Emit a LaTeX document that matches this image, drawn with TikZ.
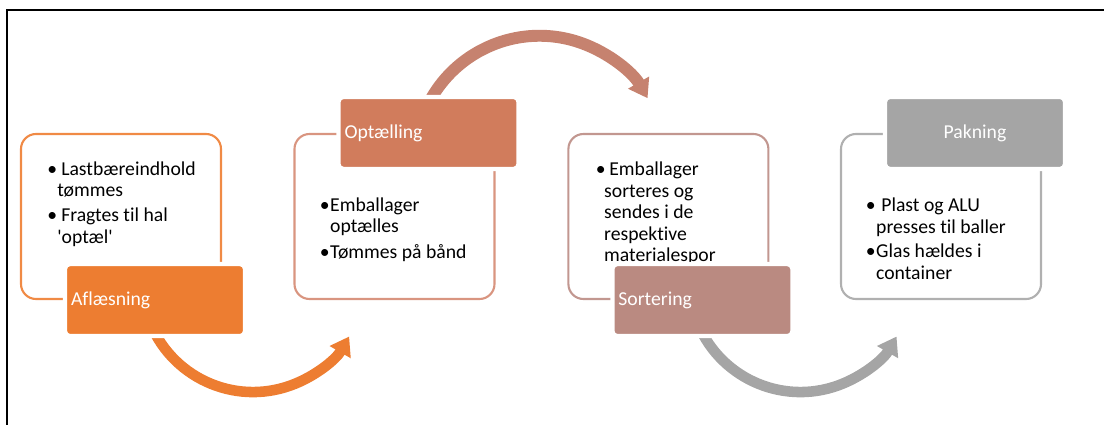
\documentclass[tikz,border=0pt]{standalone}
\usepackage{fontspec}
\setmainfont{Carlito}[Ligatures=NoCommon]
\usetikzlibrary{arrows.meta}

\definecolor{aflaes}{HTML}{ED7D31}
\definecolor{aflaesL}{HTML}{F08A45}
\definecolor{optael}{HTML}{D17C5C}
\definecolor{optaelL}{HTML}{D99580}
\definecolor{optaelP}{HTML}{C6826F}
\definecolor{sort}{HTML}{BA8A81}
\definecolor{sortL}{HTML}{C29790}
\definecolor{pak}{HTML}{A5A5A5}
\definecolor{pakL}{HTML}{B0B0B0}

\newcommand{\trinfont}{\fontsize{14}{15.3}\selectfont}
\newcommand{\pkt}[1]{\makebox[#1][l]{\textbullet}}

\tikzset{
  trinramme/.style={draw=#1, line width=1.5pt, rounded corners=0.375cm,
    minimum width=5cm, minimum height=4.125cm},
  trintitel/.style={fill=#1, draw=white, line width=3pt, rounded corners=0.12cm,
    minimum height=1.8cm, text width=4.2cm, inner xsep=0.15cm,
    text=white, font=\trinfont, align=left},
  trintekst/.style={anchor=base west, align=left, inner sep=0pt, font=\trinfont},
  trinpil/.style={draw=#1, line width=7.5pt, -{Triangle[width=0.58cm, length=0.45cm]}},
}

\begin{document}
\begin{tikzpicture}
	\useasboundingbox (0,0) rectangle (27.6,-10.625);
	\draw[line width=1.5pt] (0.175,-10.8) |- (27.8,-0.25);

	% rammer
	\node[trinramme=aflaesL] (aflaes-box) at (3.025,-5.4125) {};
	\node[trinramme=optaelL] (optael-box) at (9.8625,-5.4125) {};
	\node[trinramme=sortL] (sort-box) at (16.71,-5.4125) {};
	\node[trinramme=pakL] (pak-box) at (23.525,-5.4125) {};

	% punkter (base = sidste linje)
	\node[trintekst] (aflaes-txt) at (1.175,-6.0875) {%
		\pkt{0.35cm}Lastbæreindhold\\ \hspace*{0.25cm}tømmes\\[2.5pt]
		\pkt{0.35cm}Fragtes til hal\\ \hspace*{0.25cm}\textquotesingle optæl\textquotesingle};
	\node[trintekst] (optael-txt) at (7.9875,-6.45) {%
		\pkt{0.26cm}Emballager\\ \hspace*{0.26cm}optælles\\[2.5pt]
		\pkt{0.26cm}Tømmes på bånd};
	\node[trintekst] (sort-txt) at (14.8875,-6.5425) {%
		\pkt{0.34cm}Emballager\\ \hspace*{0.21cm}sorteres og\\
		\hspace*{0.21cm}sendes i de\\ \hspace*{0.21cm}respektive\\
		\hspace*{0.21cm}materialespor};
	\node[trintekst] (pak-txt) at (21.6375,-6.975) {%
		\pkt{0.39cm}Plast og ALU\\ \hspace*{0.26cm}presses til baller\\[2pt]
		\pkt{0.26cm}Glas hældes i\\ \hspace*{0.26cm}container};

	% pile
	\coordinate (pil-a) at (3.7175,-7.975);
	\coordinate (pil-b) at (10.555,-2.9475);
	\coordinate (pil-c) at (17.4025,-7.975);
	\draw[trinpil=aflaes] (pil-a) arc[start angle=200, end angle=330, radius=2.775cm];
	\draw[trinpil=optaelP, line width=8.5pt] (pil-b) arc[start angle=160, end angle=30, radius=3.12cm];
	\draw[trinpil=pak] (pil-c) arc[start angle=200, end angle=330, radius=2.775cm];

	% titler
	\node[trintitel=aflaes] (aflaes-tit) at ([xshift=0.85cm]aflaes-box.south) {Aflæsning};
	\node[trintitel=optael] (optael-tit) at ([xshift=0.85cm]optael-box.north) {Optælling};
	\node[trintitel=sort] (sort-tit) at ([xshift=0.85cm]sort-box.south) {Sortering};
	\node[trintitel=pak, align=center] (pak-tit) at ([xshift=0.85cm]pak-box.north) {Pakning};
\end{tikzpicture}
\end{document}
